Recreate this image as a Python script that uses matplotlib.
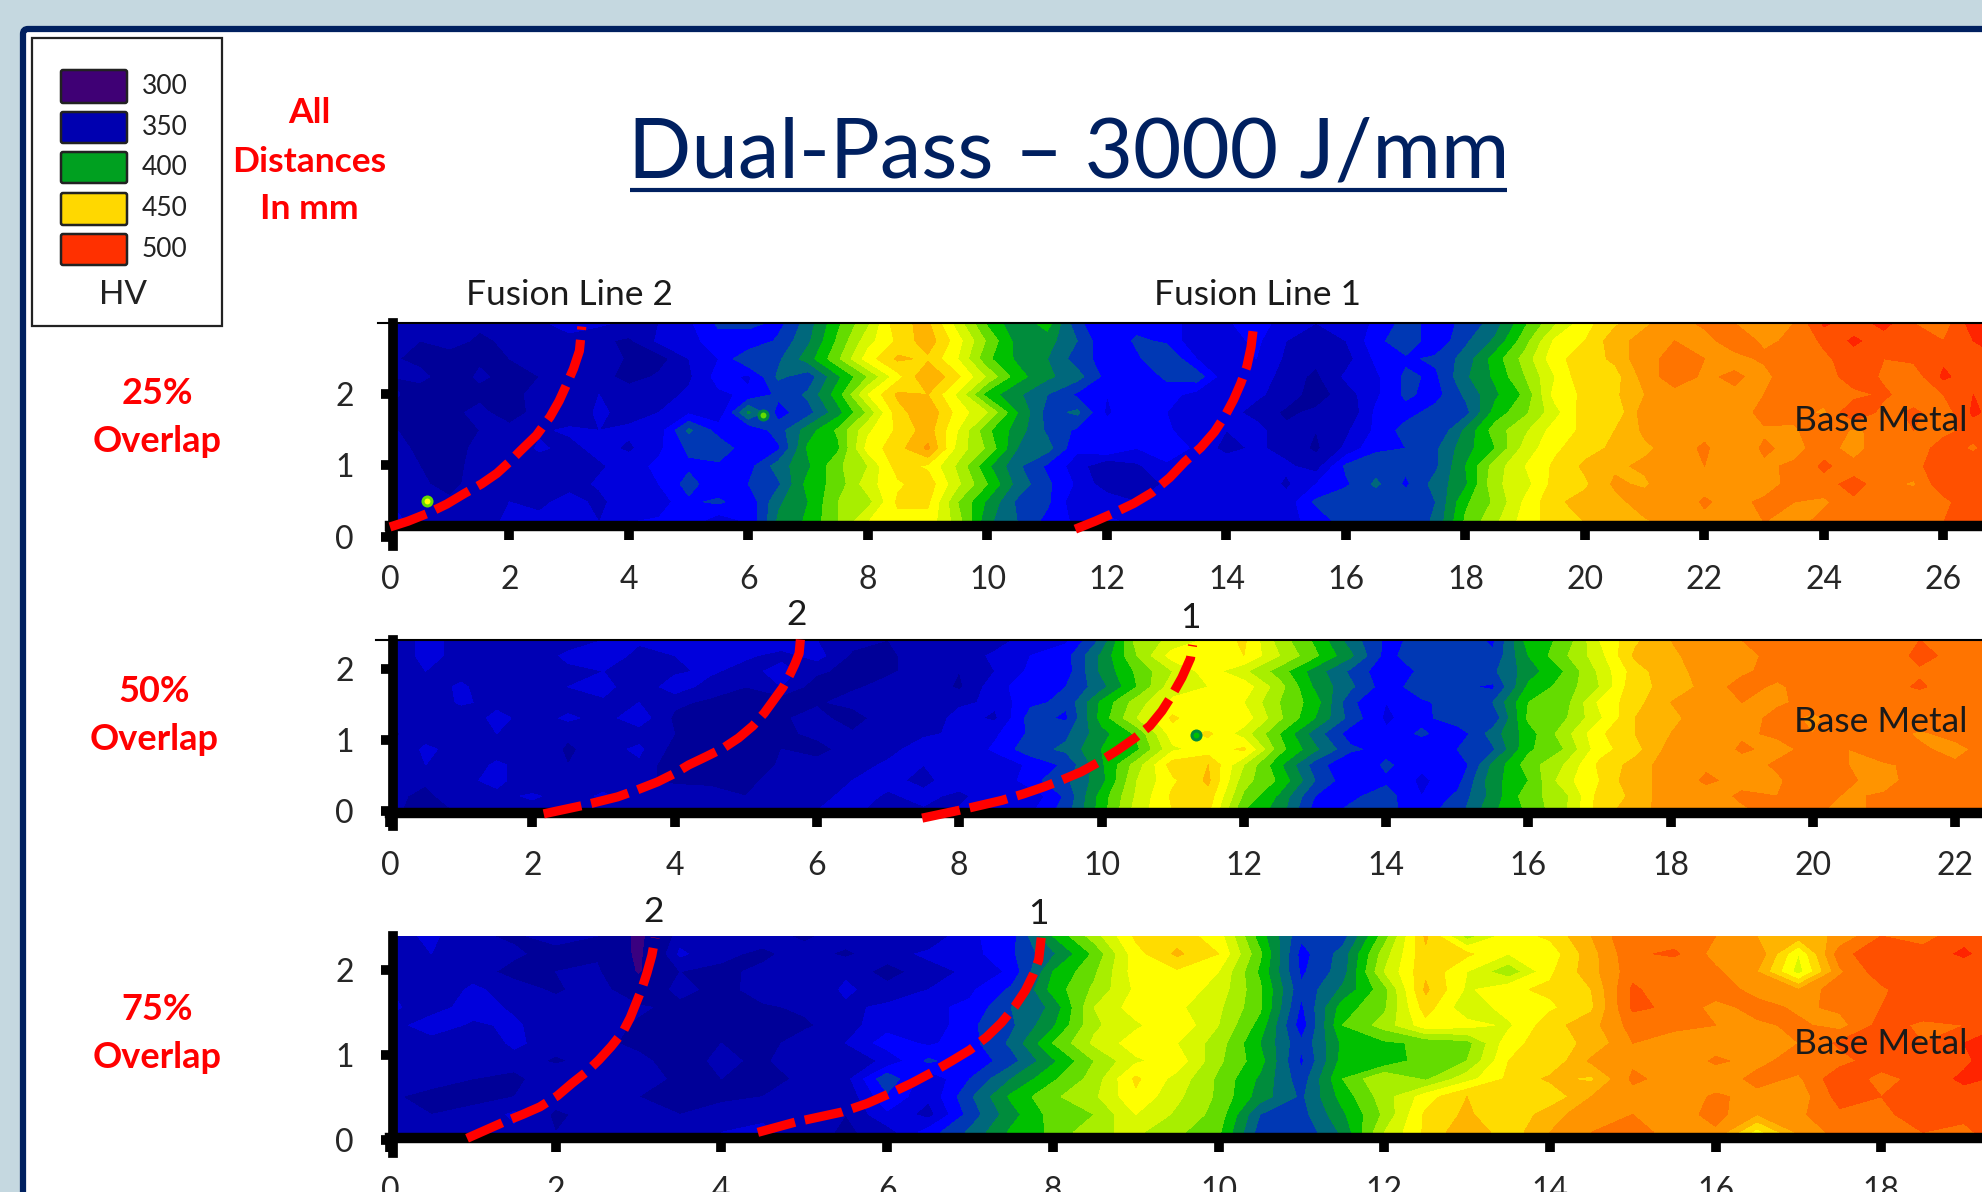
import numpy as np
import matplotlib
matplotlib.use('Agg')
import matplotlib.pyplot as plt
from matplotlib.patches import Rectangle, FancyBboxPatch

plt.rcParams['font.family'] = ['Lato', 'DejaVu Sans']

# hardness bands (HV) and their colours
levels = [280, 320, 340, 350, 360, 370, 380, 390, 400, 410, 420, 430, 440, 450, 460, 470, 480, 490, 500, 540]
band_colors = ['#3a0080', '#000098', '#0000b4', '#0000dc', '#0000ff', '#0038b4', '#00687c', '#008c3c',
               '#00c000', '#64dc00', '#a8ee00', '#d8f800', '#ffff00', '#ffdc00', '#ffb400', '#ff9400',
               '#ff7400', '#ff5000', '#ff2400']

legend_values = ['300', '350', '400', '450', '500']
legend_colors = ['#3f0075', '#0000b0', '#00a020', '#ffd800', '#ff3000']

# 25% overlap
x_25 = np.arange(0, 27.5, 0.5)
y_25 = [2.99, 2.74, 2.49, 2.24, 1.99, 1.74, 1.49, 1.24, 0.99, 0.74, 0.49, 0.2]
hv_25 = [
    [345, 350, 340, 342, 345, 348, 355, 352, 348, 350,
     358, 372, 375, 366, 385, 408, 428, 458, 462, 435,
     408, 392, 405, 372, 362, 365, 362, 358, 358, 368,
     352, 350, 352, 362, 374, 366, 372, 385, 408, 428,
     446, 458, 468, 476, 482, 480, 476, 480, 502, 494,
     504, 490, 484, 506, 498],
    [346, 340, 344, 338, 342, 350, 346, 342, 338, 352,
     356, 366, 360, 372, 388, 412, 436, 452, 466, 444,
     418, 396, 394, 380, 360, 372, 368, 352, 356, 362,
     350, 345, 350, 366, 378, 362, 378, 392, 416, 442,
     450, 466, 474, 480, 476, 486, 478, 482, 492, 502,
     494, 498, 490, 500, 504],
    [342, 336, 335, 338, 340, 342, 344, 348, 338, 335,
     350, 360, 380, 378, 395, 418, 445, 462, 458, 440,
     412, 398, 390, 375, 365, 368, 380, 360, 356, 360,
     348, 342, 346, 362, 368, 372, 384, 405, 424, 447,
     455, 462, 478, 482, 480, 476, 482, 484, 488, 495,
     490, 492, 498, 496, 500],
    [340, 344, 332, 342, 336, 340, 350, 346, 334, 342,
     348, 364, 358, 382, 374, 398, 420, 446, 470, 452,
     428, 404, 392, 384, 366, 362, 372, 376, 352, 358,
     344, 338, 352, 358, 372, 368, 388, 402, 420, 440,
     458, 456, 474, 486, 478, 482, 476, 490, 482, 498,
     488, 484, 502, 494, 506],
    [344, 332, 330, 336, 338, 342, 345, 350, 348, 345,
     352, 358, 362, 372, 382, 405, 440, 462, 460, 438,
     405, 392, 380, 368, 360, 362, 364, 356, 350, 352,
     345, 335, 345, 358, 372, 366, 382, 398, 412, 444,
     452, 458, 470, 476, 474, 478, 480, 490, 484, 486,
     492, 484, 490, 500, 498],
    [338, 330, 336, 344, 332, 346, 342, 352, 346, 350,
     358, 352, 392, 366, 376, 396, 422, 456, 468, 446,
     430, 400, 376, 382, 358, 370, 360, 350, 354, 346,
     338, 342, 340, 362, 366, 374, 376, 404, 418, 436,
     456, 452, 476, 472, 480, 470, 486, 484, 478, 500,
     486, 492, 484, 502, 494],
    [342, 334, 328, 340, 345, 348, 352, 350, 352, 355,
     382, 366, 360, 375, 395, 412, 438, 452, 465, 440,
     412, 395, 378, 368, 365, 368, 362, 352, 350, 354,
     342, 340, 348, 362, 374, 370, 392, 415, 428, 445,
     452, 460, 472, 478, 476, 474, 478, 478, 490, 478,
     484, 490, 486, 494, 496],
    [344, 338, 330, 346, 340, 352, 346, 354, 348, 358,
     372, 376, 364, 368, 402, 408, 444, 456, 472, 436,
     418, 390, 384, 362, 370, 360, 366, 358, 346, 352,
     346, 338, 352, 368, 370, 378, 396, 410, 434, 448,
     456, 462, 468, 474, 482, 470, 482, 476, 486, 474,
     490, 482, 496, 488, 500],
    [345, 340, 338, 342, 346, 342, 350, 348, 356, 362,
     368, 368, 366, 385, 398, 418, 430, 455, 448, 428,
     402, 382, 368, 355, 340, 348, 358, 355, 358, 355,
     352, 345, 372, 376, 372, 378, 400, 425, 440, 452,
     462, 468, 472, 474, 480, 472, 478, 482, 492, 484,
     480, 488, 494, 498, 494],
    [348, 342, 336, 346, 340, 350, 344, 352, 352, 360,
     374, 362, 370, 378, 404, 414, 436, 448, 456, 432,
     410, 386, 372, 358, 344, 342, 352, 360, 352, 358,
     348, 360, 368, 382, 368, 384, 398, 428, 436, 454,
     458, 472, 468, 480, 474, 476, 470, 488, 486, 494,
     484, 478, 498, 490, 502],
    [350, 346, 342, 340, 350, 346, 356, 346, 360, 354,
     368, 372, 362, 388, 400, 420, 426, 452, 452, 420,
     398, 378, 372, 352, 356, 350, 360, 354, 360, 350,
     354, 372, 378, 372, 376, 380, 408, 422, 442, 458,
     464, 466, 476, 470, 482, 474, 484, 480, 478, 488,
     482, 490, 486, 500, 492],
    [352, 348, 345, 346, 352, 355, 352, 350, 360, 362,
     364, 352, 360, 392, 402, 420, 440, 446, 446, 425,
     392, 380, 366, 358, 362, 358, 356, 360, 358, 354,
     358, 362, 375, 378, 372, 382, 412, 428, 445, 455,
     460, 470, 468, 474, 476, 472, 480, 476, 484, 480,
     486, 484, 490, 498, 496],
]

# 50% overlap
x_50 = np.arange(0, 23.5, 0.5)
y_50 = [2.41, 2.19, 1.97, 1.75, 1.53, 1.31, 1.09, 0.87, 0.65, 0.43, 0.21, 0.0]
hv_50 = [
    [345, 352, 348, 342, 340, 345, 350, 352, 354, 352,
     352, 358, 350, 344, 340, 345, 348, 345, 355, 358,
     382, 425, 432, 442, 452, 425, 408, 385, 368, 372,
     376, 368, 405, 412, 440, 458, 470, 476, 480, 482,
     484, 488, 486, 490, 484, 488, 492],
    [340, 354, 346, 350, 344, 352, 358, 346, 350, 355,
     352, 346, 354, 338, 336, 350, 344, 352, 360, 366,
     392, 420, 445, 446, 450, 430, 412, 392, 366, 378,
     370, 372, 400, 418, 436, 462, 466, 480, 474, 486,
     482, 490, 480, 494, 486, 480, 488],
    [342, 350, 345, 340, 342, 348, 350, 345, 348, 352,
     345, 355, 342, 336, 338, 345, 340, 350, 362, 365,
     392, 412, 430, 445, 432, 415, 395, 378, 362, 372,
     375, 378, 395, 410, 432, 455, 468, 472, 478, 484,
     482, 486, 480, 488, 486, 482, 490],
    [348, 344, 352, 342, 346, 350, 354, 342, 356, 345,
     340, 350, 334, 338, 344, 348, 338, 356, 366, 370,
     386, 410, 436, 440, 446, 424, 398, 382, 364, 376,
     372, 368, 402, 414, 430, 458, 462, 474, 484, 478,
     486, 480, 484, 492, 482, 488, 484],
    [345, 340, 352, 346, 350, 345, 348, 350, 342, 338,
     335, 332, 338, 345, 342, 346, 348, 352, 368, 372,
     402, 425, 442, 445, 440, 420, 405, 372, 360, 368,
     375, 380, 410, 415, 442, 456, 470, 474, 480, 478,
     484, 482, 488, 480, 484, 490, 486],
    [342, 348, 340, 354, 344, 352, 346, 356, 338, 334,
     330, 338, 345, 332, 350, 342, 354, 348, 374, 368,
     404, 430, 452, 440, 446, 422, 400, 376, 358, 366,
     378, 372, 412, 418, 438, 460, 466, 478, 474, 484,
     478, 486, 482, 488, 480, 484, 490],
    [338, 345, 344, 350, 346, 342, 350, 345, 340, 330,
     332, 335, 345, 342, 350, 348, 352, 358, 372, 378,
     396, 412, 445, 452, 435, 410, 385, 365, 362, 372,
     362, 385, 405, 425, 448, 460, 470, 474, 478, 482,
     480, 484, 486, 478, 484, 482, 488],
    [340, 352, 346, 344, 350, 338, 346, 352, 336, 332,
     328, 340, 332, 350, 346, 356, 350, 362, 376, 382,
     400, 408, 438, 444, 452, 414, 392, 372, 366, 360,
     370, 378, 408, 420, 446, 456, 474, 470, 482, 476,
     484, 480, 490, 482, 476, 486, 482],
    [345, 350, 342, 352, 345, 340, 348, 348, 332, 330,
     330, 342, 348, 345, 352, 350, 355, 352, 362, 372,
     398, 425, 455, 460, 430, 402, 375, 360, 372, 362,
     360, 392, 415, 430, 452, 464, 476, 478, 474, 482,
     486, 480, 478, 484, 482, 486, 484],
    [348, 342, 346, 354, 340, 348, 344, 342, 338, 334,
     336, 346, 342, 350, 354, 346, 358, 350, 366, 378,
     396, 430, 448, 462, 424, 408, 380, 362, 368, 358,
     366, 396, 410, 436, 450, 468, 472, 482, 476, 478,
     490, 482, 474, 488, 480, 482, 488],
    [344, 336, 350, 346, 352, 344, 352, 342, 346, 350,
     340, 350, 344, 356, 348, 354, 346, 360, 352, 372,
     404, 432, 452, 456, 418, 398, 370, 368, 374, 360,
     372, 394, 416, 426, 454, 462, 478, 474, 482, 480,
     486, 478, 482, 480, 490, 484, 480],
    [350, 320, 345, 348, 344, 350, 345, 348, 350, 346,
     342, 345, 350, 352, 345, 348, 352, 350, 358, 375,
     405, 435, 450, 452, 410, 395, 365, 372, 372, 366,
     375, 398, 412, 428, 455, 466, 475, 480, 478, 484,
     482, 476, 484, 482, 486, 480, 484],
]

# 75% overlap
x_75 = np.arange(0, 20.5, 0.5)
y_75 = [2.4, 2.19, 1.98, 1.77, 1.56, 1.35, 1.14, 0.93, 0.72, 0.51, 0.3, 0.09]
hv_75 = [
    [346, 352, 342, 338, 345, 340, 315, 345, 350, 344,
     338, 345, 350, 342, 358, 366, 400, 425, 452, 455,
     445, 405, 372, 375, 415, 462, 425, 445, 452, 470,
     490, 484, 480, 470, 465, 472, 490, 486, 496, 494,
     500],
    [340, 350, 346, 342, 335, 338, 316, 352, 342, 338,
     344, 338, 346, 352, 356, 368, 388, 412, 446, 462,
     450, 412, 366, 384, 425, 458, 452, 440, 444, 466,
     488, 492, 476, 478, 440, 486, 498, 494, 502, 490,
     504],
    [344, 348, 345, 336, 340, 342, 318, 340, 338, 342,
     344, 348, 335, 346, 352, 362, 400, 418, 445, 448,
     440, 408, 368, 385, 430, 458, 440, 422, 448, 466,
     486, 480, 482, 470, 435, 478, 496, 500, 492, 490,
     496],
    [350, 342, 352, 345, 338, 346, 328, 344, 335, 346,
     340, 352, 344, 350, 358, 372, 404, 422, 442, 446,
     436, 412, 372, 392, 416, 462, 438, 448, 452, 460,
     492, 482, 486, 476, 470, 488, 488, 498, 496, 488,
     502],
    [352, 345, 355, 348, 345, 350, 342, 336, 336, 338,
     342, 348, 352, 358, 362, 380, 392, 430, 445, 442,
     432, 412, 368, 405, 418, 455, 432, 445, 448, 458,
     492, 488, 476, 484, 478, 482, 490, 496, 494, 498,
     500],
    [345, 356, 348, 352, 342, 346, 338, 340, 334, 340,
     338, 346, 356, 352, 368, 378, 398, 428, 438, 448,
     430, 406, 364, 410, 424, 446, 444, 438, 456, 466,
     484, 482, 480, 478, 482, 476, 494, 488, 490, 500,
     496],
    [340, 345, 342, 352, 345, 342, 338, 340, 340, 336,
     345, 350, 365, 358, 366, 382, 410, 432, 445, 440,
     425, 400, 372, 402, 408, 412, 416, 446, 456, 462,
     480, 476, 474, 478, 480, 492, 498, 490, 500, 504,
     498],
    [344, 340, 350, 346, 338, 345, 342, 336, 342, 338,
     348, 344, 352, 372, 362, 376, 398, 420, 438, 446,
     422, 404, 368, 404, 402, 416, 420, 450, 452, 472,
     478, 470, 482, 476, 486, 486, 496, 496, 498, 508,
     494],
    [338, 346, 340, 336, 350, 342, 344, 338, 340, 336,
     342, 346, 378, 352, 370, 390, 408, 424, 452, 436,
     418, 398, 374, 410, 430, 418, 436, 452, 462, 458,
     482, 476, 472, 484, 478, 498, 486, 494, 502, 498,
     504],
    [342, 335, 338, 340, 345, 346, 340, 335, 338, 340,
     345, 342, 368, 352, 378, 402, 418, 428, 448, 432,
     418, 395, 378, 404, 425, 445, 460, 456, 452, 470,
     476, 472, 482, 476, 474, 494, 490, 498, 496, 504,
     500],
    [346, 340, 342, 352, 338, 344, 346, 340, 344, 348,
     350, 340, 358, 346, 374, 396, 414, 420, 440, 428,
     416, 380, 376, 398, 422, 452, 462, 450, 466, 476,
     480, 474, 484, 470, 478, 488, 486, 498, 492, 500,
     496],
    [350, 345, 346, 348, 340, 346, 348, 345, 350, 352,
     345, 338, 345, 365, 382, 402, 412, 428, 432, 422,
     412, 375, 372, 392, 430, 452, 468, 454, 470, 480,
     484, 476, 478, 445, 472, 484, 480, 490, 488, 496,
     498],
]

# fusion lines (mm)
fl2_25_x = [0.0, 0.3, 0.63, 0.95, 1.25, 1.53, 1.79, 2.0, 2.19, 2.45, 2.68, 2.83, 2.95, 3.07, 3.17, 3.21]
fl2_25_y = [0.14, 0.22, 0.33, 0.46, 0.61, 0.74, 0.89, 1.05, 1.21, 1.42, 1.68, 1.9, 2.12, 2.35, 2.6, 2.94]
fl1_25_x = [11.47, 11.8, 12.1, 12.45, 12.75, 13.05, 13.3, 13.57, 13.8, 13.98, 14.12, 14.24, 14.34, 14.41, 14.45]
fl1_25_y = [0.11, 0.22, 0.33, 0.47, 0.62, 0.83, 1.05, 1.25, 1.47, 1.7, 1.92, 2.15, 2.38, 2.65, 2.92]
fl2_50_x = [2.16, 2.72, 3.2, 3.48, 3.76, 4.0, 4.2, 4.45, 4.69, 4.9, 5.1, 5.26, 5.39, 5.52, 5.62, 5.69, 5.75, 5.77]
fl2_50_y = [-0.04, 0.08, 0.2, 0.3, 0.41, 0.53, 0.65, 0.77, 0.89, 1.03, 1.2, 1.38, 1.56, 1.74, 1.92, 2.07, 2.22, 2.44]
fl1_50_x = [7.48, 8.0, 8.6, 8.9, 9.19, 9.45, 9.71, 9.98, 10.23, 10.47, 10.68, 10.85, 10.99, 11.13, 11.25, 11.28]
fl1_50_y = [-0.1, 0.01, 0.15, 0.24, 0.34, 0.44, 0.55, 0.7, 0.86, 1.03, 1.2, 1.41, 1.63, 1.88, 2.15, 2.34]
fl2_75_x = [0.93, 1.37, 1.6, 1.81, 2.02, 2.2, 2.37, 2.52, 2.67, 2.81, 2.9, 2.97, 3.04, 3.1, 3.16, 3.2]
fl2_75_y = [0.02, 0.21, 0.3, 0.39, 0.52, 0.67, 0.8, 0.94, 1.1, 1.27, 1.44, 1.61, 1.78, 1.96, 2.17, 2.38]
fl1_75_x = [4.44, 4.89, 5.46, 5.76, 6.04, 6.3, 6.55, 6.78, 7.0, 7.2, 7.38, 7.54, 7.67, 7.76, 7.83, 7.86]
fl1_75_y = [0.09, 0.21, 0.33, 0.43, 0.55, 0.67, 0.8, 0.93, 1.06, 1.21, 1.38, 1.57, 1.76, 1.94, 2.12, 2.38]

# isolated hard spots (x, y, outer colour, inner colour)
spots_25 = [(0.62, 0.5, '#64dc00', '#ffff00'), (6.25, 1.7, '#008c3c', '#64dc00')]
spots_50 = [(11.33, 1.07, '#008c3c', '#00c000')]

ticks_25 = list(range(0, 28, 2))
ticks_50 = list(range(0, 24, 2))
ticks_75 = list(range(0, 20, 2))

W, H = 1983, 1192
fig = plt.figure(figsize=(W / 100, H / 100), dpi=100, facecolor='#c5d8e0')


def panel(x, y, hv, xticks, fl2, fl1, spots, sx, sy, y0_px, top_px, axis_px, stub_px, label_pad, top_line):
    # one hardness map; sx, sy are pixels per mm
    xlo = -0.2
    xhi = (W - 390) / sx
    ylo = (y0_px - stub_px) / sy
    yhi = y[0]
    left = 390 + xlo * sx
    bottom = H - stub_px
    ax = fig.add_axes([left / W, bottom / H, (W - left) / W, (stub_px - top_px) / H])
    ax.contourf(x, y, hv, levels=levels, colors=band_colors)
    ax.set_xlim(xlo, xhi)
    ax.set_ylim(ylo, yhi)
    ax.patch.set_alpha(0)
    for sp_x, sp_y, c1, c2 in spots:
        ax.scatter([sp_x], [sp_y], s=75, color=c1, linewidths=0, zorder=3)
        ax.scatter([sp_x], [sp_y], s=18, color=c2, linewidths=0, zorder=3)
    for fl in (fl2, fl1):
        ax.plot(fl[0], fl[1], color='#ff0000', lw=6.6, dashes=(4.2, 1.1), zorder=6, clip_on=False)
    ax.spines['top'].set_visible(top_line)
    ax.spines['top'].set_linewidth(1.5)
    ax.spines['right'].set_visible(False)
    ax.spines['left'].set_position(('data', 3 / sx))
    ax.spines['left'].set_linewidth(7)
    ax.spines['bottom'].set_position(('data', (y0_px - axis_px) / sy))
    ax.spines['bottom'].set_linewidth(7.5)
    ax.spines['bottom'].set_bounds(0, xhi)
    ax.set_xticks(xticks)
    ax.set_yticks([0, 1, 2])
    ax.tick_params(axis='x', length=10, width=7, pad=label_pad, labelsize=23, labelcolor='#262626')
    ax.tick_params(axis='y', length=9, width=7, pad=19, labelsize=23, labelcolor='#262626')
    return ax


panel(x_25, y_25, hv_25, ticks_25, (fl2_25_x, fl2_25_y), (fl1_25_x, fl1_25_y), spots_25,
      59.75, 71.5, 537, 323, 526, 546, 18, True)
panel(x_50, y_50, hv_50, ticks_50, (fl2_50_x, fl2_50_y), (fl1_50_x, fl1_50_y), spots_50,
      71.15, 71.0, 811, 640, 812.5, 826, 18, True)
panel(x_75, y_75, hv_75, ticks_75, (fl2_75_x, fl2_75_y), (fl1_75_x, fl1_75_y), [],
      82.85, 85.0, 1140, 936, 1137.5, 1153, 18, False)

# slide frame, legend and labels are placed in pixels on a full figure overlay
bg = fig.add_axes([0, 0, 1, 1], zorder=-1)
bg.set_xlim(0, W)
bg.set_ylim(H, 0)
bg.axis('off')
bg.add_patch(FancyBboxPatch((23, 29), W + 60, H + 60, boxstyle='round,pad=0,rounding_size=5',
                            fc='white', ec='#002060', lw=4.5))

over = fig.add_axes([0, 0, 1, 1], zorder=10)
over.set_xlim(0, W)
over.set_ylim(H, 0)
over.axis('off')
over.add_patch(Rectangle((32, 38), 190, 288, fc='white', ec='#222222', lw=1.6))
swatch_top = [70, 112, 152, 193, 234]
swatch_h = [33, 31, 31, 32, 31]
for val, col, t, h in zip(legend_values, legend_colors, swatch_top, swatch_h):
    over.add_patch(FancyBboxPatch((61, t), 66, h, boxstyle='round,pad=0,rounding_size=2',
                                  fc=col, ec='#222222', lw=1.8))
    over.text(142, t + h / 2 + 0, val, fontsize=19, color='#222222', ha='left', va='center')
over.text(123, 295, 'HV', fontsize=24, color='#222222', ha='center', va='center')

for s, y in zip(['All', 'Distances', 'In mm'], [113, 162, 209]):
    over.text(309, y, s, fontsize=25.5, fontweight='bold', color='#ff0000', ha='center', va='center')
for s1, cx, y1, y2 in [('25%', 157, 394, 441), ('50%', 154, 692, 739), ('75%', 157, 1010, 1057)]:
    over.text(cx, y1, s1, fontsize=26, fontweight='bold', color='#ff0000', ha='center', va='center')
    over.text(cx, y2, 'Overlap', fontsize=26, fontweight='bold', color='#ff0000', ha='center', va='center')

over.text(1069, 177, 'Dual-Pass – 3000 J/mm', fontsize=60, color='#002060', ha='center', va='baseline')
over.plot([630, 1507], [190, 190], color='#002060', lw=3, solid_capstyle='butt')

for s, cx, y in [('Fusion Line 2', 570, 295), ('Fusion Line 1', 1257, 295), ('2', 797, 615), ('1', 1190, 618),
                 ('2', 654, 912), ('1', 1038, 914), ('Base Metal', 1881, 421), ('Base Metal', 1881, 722),
                 ('Base Metal', 1881, 1044)]:
    over.text(cx, y, s, fontsize=25.5, color='#1a1a1a', ha='center', va='center')

fig.savefig('out.png', dpi=100, facecolor=fig.get_facecolor())
